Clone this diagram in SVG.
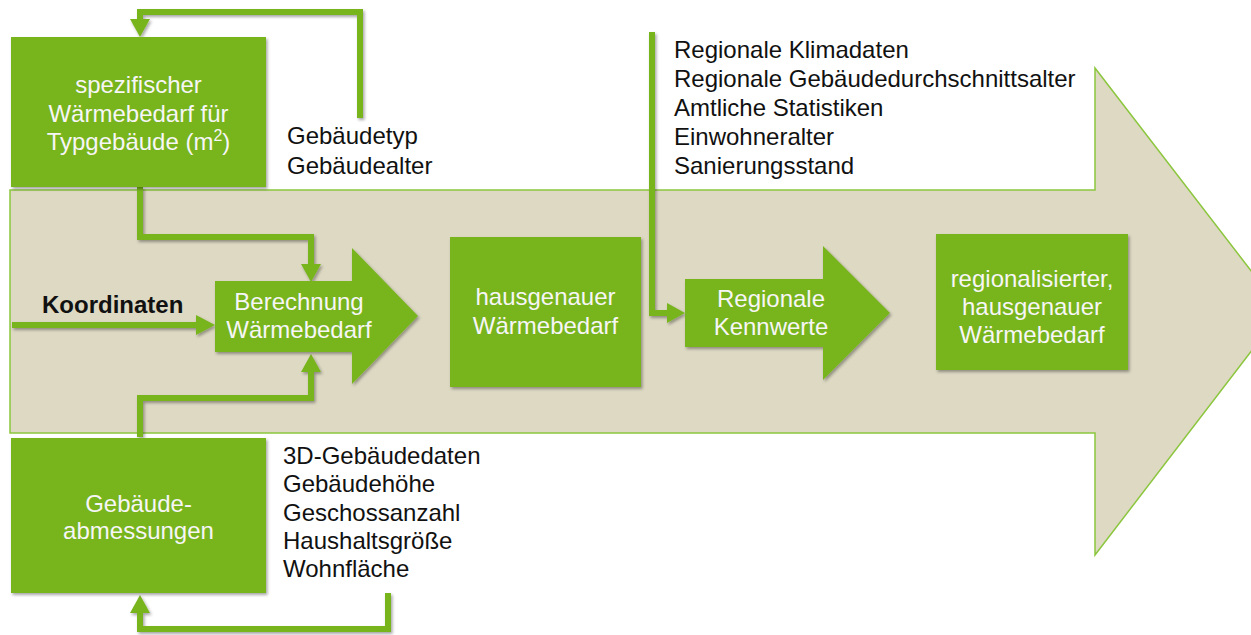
<svg xmlns="http://www.w3.org/2000/svg" width="1251" height="635" viewBox="0 0 1251 635">
  <style>
    .box { fill: #78b41e; filter: url(#sh); }
    .wt { fill: #f6f6f6; font-family: "Liberation Sans", Arial, sans-serif; font-size: 24px; text-anchor: middle; }
    .bt { fill: #111111; font-family: "Liberation Sans", Arial, sans-serif; font-size: 24px; }
    .ln { fill: none; stroke: #78b41e; stroke-width: 6; stroke-linejoin: miter; }
    .ah { fill: #78b41e; }
  </style>
  <defs>
    <filter id="sh" x="-10%" y="-10%" width="130%" height="130%">
      <feDropShadow dx="1.5" dy="2" stdDeviation="1.5" flood-color="#000000" flood-opacity="0.35"/>
    </filter>
  </defs>
  <rect x="0" y="0" width="1251" height="635" fill="#ffffff"/>

  <g id="main-arrow">
    <polygon points="10,190 1095,190 1095,68 1282,311 1095,555 1095,433 10,433" fill="#ddd9c3" stroke="#8cc63e" stroke-width="1.5"/>
  </g>

  <g id="connectors" filter="url(#sh)">
    <!-- top feedback: Gebäudetyp -> spezifischer box -->
    <polyline class="ln" points="360,118 360,12 140,12 140,20"/>
    <polygon class="ah" points="130,19 150,19 140,37"/>
    <!-- spezifischer box -> Berechnung -->
    <polyline class="ln" points="140,187 140,237 311,237 311,266"/>
    <polygon class="ah" points="301,264 321,264 311,282"/>
    <!-- Koordinaten -> Berechnung -->
    <line class="ln" x1="12" y1="325" x2="198" y2="325"/>
    <polygon class="ah" points="196,315 196,335 215,325"/>
    <!-- Gebäudeabmessungen -> Berechnung -->
    <polyline class="ln" points="140,437 140,398 311,398 311,370"/>
    <polygon class="ah" points="301,372 321,372 311,354"/>
    <!-- bottom feedback: list -> Gebäudeabmessungen -->
    <polyline class="ln" points="388,593 388,629 140,629 140,610"/>
    <polygon class="ah" points="130,613 150,613 140,595"/>
    <!-- regional data -> Regionale Kennwerte -->
    <polyline class="ln" points="652,32 652,313 670,313"/>
    <polygon class="ah" points="667,303 667,323 685,313"/>
  </g>

  <g id="node-spezifisch">
    <rect class="box" x="11" y="37" width="255" height="150"/>
    <text class="wt" x="138.5" y="93">spezifischer</text>
    <text class="wt" x="138.5" y="122">Wärmebedarf für</text>
    <text class="wt" x="138.5" y="150">Typgebäude (m<tspan font-size="16" dy="-9">2</tspan><tspan dy="9">)</tspan></text>
  </g>

  <g id="label-typ">
    <text class="bt" x="287" y="144">Gebäudetyp</text>
    <text class="bt" x="287" y="174">Gebäudealter</text>
  </g>

  <g id="node-koordinaten">
    <text class="bt" x="42" y="313" font-weight="bold">Koordinaten</text>
  </g>

  <g id="node-berechnung">
    <polygon class="box" points="215,281 352,281 352,248 418,316 352,384 352,352 215,352"/>
    <text class="wt" x="299" y="310">Berechnung</text>
    <text class="wt" x="299" y="338">Wärmebedarf</text>
  </g>

  <g id="node-hausgenau">
    <rect class="box" x="450" y="237" width="191" height="150"/>
    <text class="wt" x="545.5" y="305">hausgenauer</text>
    <text class="wt" x="545.5" y="334">Wärmebedarf</text>
  </g>

  <g id="label-regional">
    <text class="bt" x="674" y="58">Regionale Klimadaten</text>
    <text class="bt" x="674" y="87">Regionale Gebäudedurchschnittsalter</text>
    <text class="bt" x="674" y="116">Amtliche Statistiken</text>
    <text class="bt" x="674" y="145">Einwohneralter</text>
    <text class="bt" x="674" y="174">Sanierungsstand</text>
  </g>

  <g id="node-regionale-kennwerte">
    <polygon class="box" points="685,279 823,279 823,246 890,313 823,380 823,347 685,347"/>
    <text class="wt" x="771" y="307">Regionale</text>
    <text class="wt" x="771" y="335">Kennwerte</text>
  </g>

  <g id="node-regionalisiert">
    <rect class="box" x="936" y="234" width="192" height="136"/>
    <text class="wt" x="1032" y="287">regionalisierter,</text>
    <text class="wt" x="1032" y="315">hausgenauer</text>
    <text class="wt" x="1032" y="343">Wärmebedarf</text>
  </g>

  <g id="node-abmessungen">
    <rect class="box" x="11" y="438" width="255" height="155"/>
    <text class="wt" x="138.5" y="512">Gebäude-</text>
    <text class="wt" x="138.5" y="539">abmessungen</text>
  </g>

  <g id="label-gebaeudedaten">
    <text class="bt" x="283" y="464">3D-Gebäudedaten</text>
    <text class="bt" x="283" y="492">Gebäudehöhe</text>
    <text class="bt" x="283" y="521">Geschossanzahl</text>
    <text class="bt" x="283" y="549">Haushaltsgröße</text>
    <text class="bt" x="283" y="577">Wohnfläche</text>
  </g>
</svg>
